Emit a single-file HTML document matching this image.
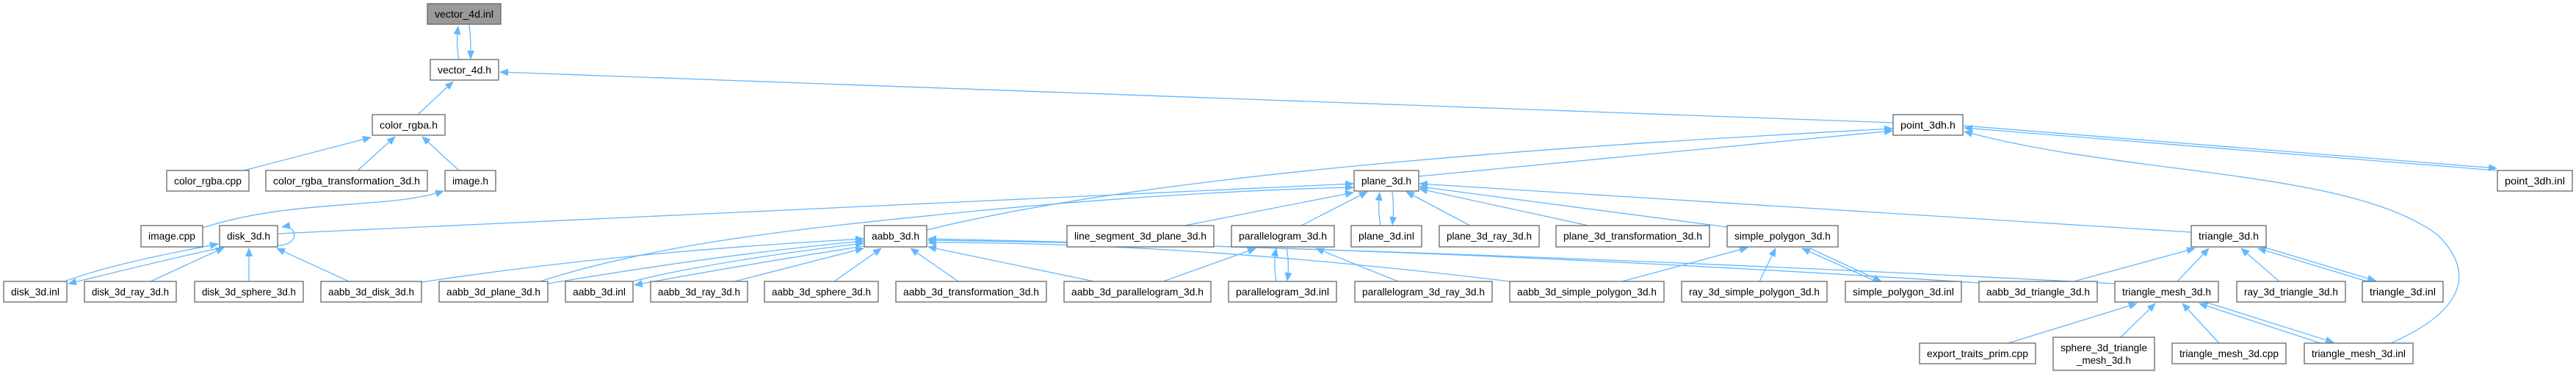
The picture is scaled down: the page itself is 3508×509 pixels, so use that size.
<!DOCTYPE html>
<html><head><meta charset="utf-8"><style>
html,body{margin:0;padding:0;background:#fff;}
svg{display:block;}
text{font-family:"Liberation Sans",sans-serif;font-size:14px;fill:#000;}
.e{fill:none;stroke:#63b8ff;stroke-width:1.3;marker-end:url(#a);}
.n{fill:#fff;stroke:#666;stroke-width:1.3;}
</style></head><body>
<svg width="3508" height="509" viewBox="0 0 3508 509" xmlns="http://www.w3.org/2000/svg">
<defs><marker id="a" markerUnits="userSpaceOnUse" markerWidth="12" markerHeight="10" refX="11" refY="5" orient="auto"><path d="M0,0 L12,5 L0,10 z" fill="#63b8ff"/></marker></defs>
<g>
<path class="e" d="M625,81 C622,66 622,50 624,36"/>
<path class="e" d="M639,34 C641,50 641,64 641,80"/>
<path class="e" d="M569,156 L617,111"/>
<path class="e" d="M2578,167 L681,98"/>
<path class="e" d="M332,232 L505,187"/>
<path class="e" d="M487,232 L538,186"/>
<path class="e" d="M625,232 L575,186"/>
<path class="e" d="M276,310 C400,270 530,285 604,260"/>
<path class="e" d="M378,334 C410,334 405,305 384,309"/>
<path class="e" d="M379,318 L1843,250"/>
<path class="e" d="M88,383 C150,360 230,345 297,332"/>
<path class="e" d="M298,338 C230,352 160,370 93,386"/>
<path class="e" d="M205,383 L305,337"/>
<path class="e" d="M339,383 L339,338"/>
<path class="e" d="M475,383 L377,338"/>
<path class="e" d="M574,384 C800,350 1000,335 1176,325"/>
<path class="e" d="M735,383 C900,330 1100,310 1300,290 C1500,270 1700,258 1843,255"/>
<path class="e" d="M746,386 C900,360 1050,340 1176,328"/>
<path class="e" d="M862,383 C950,360 1100,340 1176,331"/>
<path class="e" d="M1176,335 C1080,350 960,370 864,388"/>
<path class="e" d="M1000,383 L1176,338"/>
<path class="e" d="M1136,383 L1200,338"/>
<path class="e" d="M1305,383 L1240,338"/>
<path class="e" d="M1490,383 L1264,336"/>
<path class="e" d="M1584,383 L1710,338"/>
<path class="e" d="M2056,383 C1700,340 1450,330 1264,330"/>
<path class="e" d="M2695,385 C2000,340 1500,330 1264,327"/>
<path class="e" d="M2880,386 C2100,345 1500,330 1264,325"/>
<path class="e" d="M1262,313 C1600,230 2200,195 2577,175"/>
<path class="e" d="M1932,240 L2577,178"/>
<path class="e" d="M1613,307 L1843,262"/>
<path class="e" d="M1772,307 L1862,261"/>
<path class="e" d="M1880,307 C1877,290 1877,278 1879,262"/>
<path class="e" d="M1896,261 C1898,278 1898,290 1896,306"/>
<path class="e" d="M2002,307 L1915,261"/>
<path class="e" d="M2163,307 L1933,257"/>
<path class="e" d="M2352,309 L1933,254"/>
<path class="e" d="M2984,316 L1933,250"/>
<path class="e" d="M1738,383 C1735,365 1735,353 1738,338"/>
<path class="e" d="M1752,338 C1755,353 1755,368 1753,382"/>
<path class="e" d="M1904,383 L1792,338"/>
<path class="e" d="M2209,383 L2380,337"/>
<path class="e" d="M2396,383 L2418,338"/>
<path class="e" d="M2555,383 L2454,338"/>
<path class="e" d="M2465,338 L2562,383"/>
<path class="e" d="M3400,232 L2675,174"/>
<path class="e" d="M2674,171 L3400,229"/>
<path class="e" d="M3256,467 C3340,430 3380,380 3320,320 C3200,230 2900,240 2675,179"/>
<path class="e" d="M2824,383 L2989,338"/>
<path class="e" d="M2965,383 L3008,338"/>
<path class="e" d="M3104,383 L3052,338"/>
<path class="e" d="M3224,383 L3075,338"/>
<path class="e" d="M3085,337 L3235,382"/>
<path class="e" d="M2735,467 L2910,413"/>
<path class="e" d="M2888,459 L2935,413"/>
<path class="e" d="M3022,467 L2972,413"/>
<path class="e" d="M3160,467 L2995,413"/>
<path class="e" d="M3003,411 L3178,466"/>
</g>
<g>
<rect x="582" y="5" width="100" height="28" fill="#999" stroke="#666" stroke-width="1.3"/><text x="632" y="24" text-anchor="middle" textLength="80" lengthAdjust="spacingAndGlyphs">vector_4d.inl</text>
<rect class="n" x="586" y="81" width="93" height="28"/><text x="632.5" y="100" text-anchor="middle" textLength="73" lengthAdjust="spacingAndGlyphs">vector_4d.h</text>
<rect class="n" x="507" y="156" width="99" height="28"/><text x="556.5" y="175" text-anchor="middle" textLength="79" lengthAdjust="spacingAndGlyphs">color_rgba.h</text>
<rect class="n" x="2578" y="156" width="95" height="28"/><text x="2625.5" y="175" text-anchor="middle" textLength="75" lengthAdjust="spacingAndGlyphs">point_3dh.h</text>
<rect class="n" x="227" y="232" width="112" height="28"/><text x="283" y="251" text-anchor="middle" textLength="92" lengthAdjust="spacingAndGlyphs">color_rgba.cpp</text>
<rect class="n" x="362" y="232" width="220" height="28"/><text x="472" y="251" text-anchor="middle" textLength="200" lengthAdjust="spacingAndGlyphs">color_rgba_transformation_3d.h</text>
<rect class="n" x="606" y="232" width="69" height="28"/><text x="640.5" y="251" text-anchor="middle" textLength="49" lengthAdjust="spacingAndGlyphs">image.h</text>
<rect class="n" x="1844" y="232" width="88" height="28"/><text x="1888" y="251" text-anchor="middle" textLength="68" lengthAdjust="spacingAndGlyphs">plane_3d.h</text>
<rect class="n" x="3401" y="232" width="102" height="28"/><text x="3452" y="251" text-anchor="middle" textLength="82" lengthAdjust="spacingAndGlyphs">point_3dh.inl</text>
<rect class="n" x="192" y="307" width="84" height="29"/><text x="234" y="326" text-anchor="middle" textLength="64" lengthAdjust="spacingAndGlyphs">image.cpp</text>
<rect class="n" x="299" y="307" width="79" height="29"/><text x="338.5" y="326" text-anchor="middle" textLength="59" lengthAdjust="spacingAndGlyphs">disk_3d.h</text>
<rect class="n" x="1177" y="307" width="85" height="29"/><text x="1219.5" y="326" text-anchor="middle" textLength="65" lengthAdjust="spacingAndGlyphs">aabb_3d.h</text>
<rect class="n" x="1453" y="307" width="200" height="29"/><text x="1553" y="326" text-anchor="middle" textLength="180" lengthAdjust="spacingAndGlyphs">line_segment_3d_plane_3d.h</text>
<rect class="n" x="1677" y="307" width="140" height="29"/><text x="1747" y="326" text-anchor="middle" textLength="120" lengthAdjust="spacingAndGlyphs">parallelogram_3d.h</text>
<rect class="n" x="1840" y="307" width="96" height="29"/><text x="1888" y="326" text-anchor="middle" textLength="76" lengthAdjust="spacingAndGlyphs">plane_3d.inl</text>
<rect class="n" x="1960" y="307" width="136" height="29"/><text x="2028" y="326" text-anchor="middle" textLength="116" lengthAdjust="spacingAndGlyphs">plane_3d_ray_3d.h</text>
<rect class="n" x="2119" y="307" width="209" height="29"/><text x="2223.5" y="326" text-anchor="middle" textLength="189" lengthAdjust="spacingAndGlyphs">plane_3d_transformation_3d.h</text>
<rect class="n" x="2352" y="307" width="151" height="29"/><text x="2427.5" y="326" text-anchor="middle" textLength="131" lengthAdjust="spacingAndGlyphs">simple_polygon_3d.h</text>
<rect class="n" x="2984" y="307" width="102" height="29"/><text x="3035" y="326" text-anchor="middle" textLength="82" lengthAdjust="spacingAndGlyphs">triangle_3d.h</text>
<rect class="n" x="5" y="383" width="86" height="28"/><text x="48" y="402" text-anchor="middle" textLength="66" lengthAdjust="spacingAndGlyphs">disk_3d.inl</text>
<rect class="n" x="115" y="383" width="125" height="28"/><text x="177.5" y="402" text-anchor="middle" textLength="105" lengthAdjust="spacingAndGlyphs">disk_3d_ray_3d.h</text>
<rect class="n" x="265" y="383" width="148" height="28"/><text x="339" y="402" text-anchor="middle" textLength="128" lengthAdjust="spacingAndGlyphs">disk_3d_sphere_3d.h</text>
<rect class="n" x="437" y="383" width="137" height="28"/><text x="505.5" y="402" text-anchor="middle" textLength="117" lengthAdjust="spacingAndGlyphs">aabb_3d_disk_3d.h</text>
<rect class="n" x="598" y="383" width="148" height="28"/><text x="672" y="402" text-anchor="middle" textLength="128" lengthAdjust="spacingAndGlyphs">aabb_3d_plane_3d.h</text>
<rect class="n" x="770" y="383" width="92" height="28"/><text x="816" y="402" text-anchor="middle" textLength="72" lengthAdjust="spacingAndGlyphs">aabb_3d.inl</text>
<rect class="n" x="886" y="383" width="132" height="28"/><text x="952" y="402" text-anchor="middle" textLength="112" lengthAdjust="spacingAndGlyphs">aabb_3d_ray_3d.h</text>
<rect class="n" x="1041" y="383" width="155" height="28"/><text x="1118.5" y="402" text-anchor="middle" textLength="135" lengthAdjust="spacingAndGlyphs">aabb_3d_sphere_3d.h</text>
<rect class="n" x="1220" y="383" width="205" height="28"/><text x="1322.5" y="402" text-anchor="middle" textLength="185" lengthAdjust="spacingAndGlyphs">aabb_3d_transformation_3d.h</text>
<rect class="n" x="1449" y="383" width="200" height="28"/><text x="1549" y="402" text-anchor="middle" textLength="180" lengthAdjust="spacingAndGlyphs">aabb_3d_parallelogram_3d.h</text>
<rect class="n" x="1673" y="383" width="147" height="28"/><text x="1746.5" y="402" text-anchor="middle" textLength="127" lengthAdjust="spacingAndGlyphs">parallelogram_3d.inl</text>
<rect class="n" x="1845" y="383" width="187" height="28"/><text x="1938.5" y="402" text-anchor="middle" textLength="167" lengthAdjust="spacingAndGlyphs">parallelogram_3d_ray_3d.h</text>
<rect class="n" x="2056" y="383" width="210" height="28"/><text x="2161" y="402" text-anchor="middle" textLength="190" lengthAdjust="spacingAndGlyphs">aabb_3d_simple_polygon_3d.h</text>
<rect class="n" x="2290" y="383" width="198" height="28"/><text x="2389" y="402" text-anchor="middle" textLength="178" lengthAdjust="spacingAndGlyphs">ray_3d_simple_polygon_3d.h</text>
<rect class="n" x="2513" y="383" width="158" height="28"/><text x="2592" y="402" text-anchor="middle" textLength="138" lengthAdjust="spacingAndGlyphs">simple_polygon_3d.inl</text>
<rect class="n" x="2695" y="383" width="161" height="28"/><text x="2775.5" y="402" text-anchor="middle" textLength="141" lengthAdjust="spacingAndGlyphs">aabb_3d_triangle_3d.h</text>
<rect class="n" x="2880" y="383" width="141" height="28"/><text x="2950.5" y="402" text-anchor="middle" textLength="121" lengthAdjust="spacingAndGlyphs">triangle_mesh_3d.h</text>
<rect class="n" x="3046" y="383" width="148" height="28"/><text x="3120" y="402" text-anchor="middle" textLength="128" lengthAdjust="spacingAndGlyphs">ray_3d_triangle_3d.h</text>
<rect class="n" x="3217" y="383" width="110" height="28"/><text x="3272" y="402" text-anchor="middle" textLength="90" lengthAdjust="spacingAndGlyphs">triangle_3d.inl</text>
<rect class="n" x="2614" y="467" width="158" height="28"/><text x="2693" y="486" text-anchor="middle" textLength="138" lengthAdjust="spacingAndGlyphs">export_traits_prim.cpp</text>
<rect class="n" x="2796" y="459" width="138" height="45"/><text x="2865" y="478" text-anchor="middle" textLength="118" lengthAdjust="spacingAndGlyphs">sphere_3d_triangle</text><text x="2865" y="495" text-anchor="middle" textLength="74" lengthAdjust="spacingAndGlyphs">_mesh_3d.h</text>
<rect class="n" x="2958" y="467" width="155" height="28"/><text x="3035.5" y="486" text-anchor="middle" textLength="135" lengthAdjust="spacingAndGlyphs">triangle_mesh_3d.cpp</text>
<rect class="n" x="3138" y="467" width="148" height="28"/><text x="3212" y="486" text-anchor="middle" textLength="128" lengthAdjust="spacingAndGlyphs">triangle_mesh_3d.inl</text>
</g>
</svg>
</body></html>
